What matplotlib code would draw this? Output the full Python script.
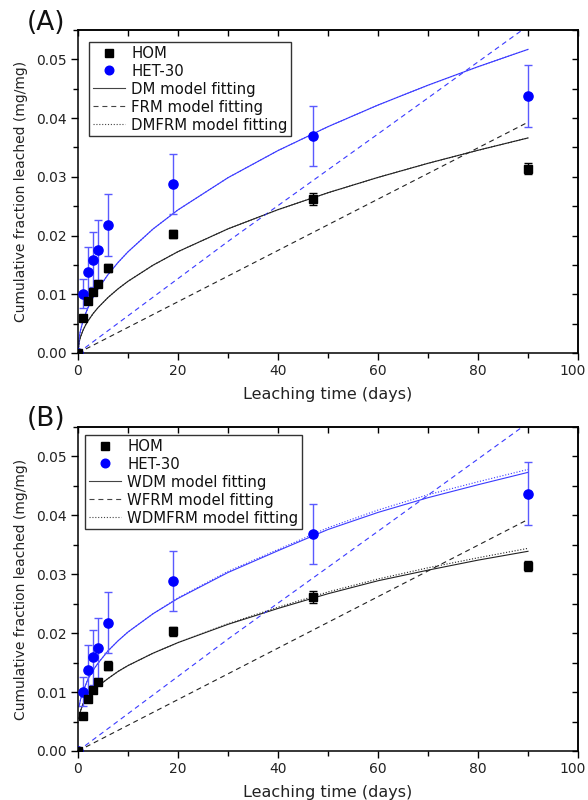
import numpy as np
import matplotlib
matplotlib.use("Agg")
import matplotlib.pyplot as plt
from matplotlib.lines import Line2D
from matplotlib.ticker import MultipleLocator, FormatStrFormatter
import matplotlib.transforms as mtransforms

plt.rcParams['font.family'] = ['DejaVu Sans']

# ---------------- data ----------------
t_obs = [0, 1, 2, 3, 4, 6, 19, 47, 90]
hom = [0, 0.0060, 0.0088, 0.0104, 0.0117, 0.0145, 0.0203, 0.0262, 0.0314]
hom_err = [0, 0.0005, 0.0005, 0.0005, 0.0005, 0.0007, 0.0007, 0.0010, 0.0009]
het = [0, 0.0101, 0.0138, 0.0159, 0.0175, 0.0218, 0.0288, 0.0369, 0.0437]
het_err = [0, 0.0025, 0.0042, 0.0047, 0.0051, 0.0052, 0.0051, 0.0051, 0.0053]

# panel A model curves
t_fit = [0, 0.25, 0.5, 1, 1.5, 2, 3, 4, 6, 8, 10, 15, 20, 30, 40, 50, 60, 70, 80, 90]
dm_hom = [0, 0.00193, 0.00273, 0.00386, 0.00473, 0.00546, 0.00669, 0.00772, 0.00945,
          0.01092, 0.01221, 0.01495, 0.01726, 0.02114, 0.02441, 0.02729, 0.0299,
          0.0323, 0.03452, 0.03662]
dm_het = [0, 0.00273, 0.00385, 0.00545, 0.00667, 0.00771, 0.00944, 0.0109, 0.01335,
          0.01541, 0.01723, 0.02111, 0.02437, 0.02985, 0.03447, 0.03854, 0.04222,
          0.0456, 0.04875, 0.0517]
dmfrm_hom = dm_hom
dmfrm_het = dm_het

t_lin = [0, 30, 60, 90]
frm_hom = [0, 0.0131, 0.0262, 0.0393]
frm_het = [0, 0.0190, 0.0373, 0.0557]

# panel B model curves
t_w = [0.2, 0.5, 1, 2, 3, 4, 6, 8, 10, 15, 20, 30, 40, 50, 60, 70, 80, 90]
wdm_hom = [0.0055, 0.0068, 0.0080, 0.0093, 0.0102, 0.0110, 0.0123, 0.0135, 0.0145,
           0.0166, 0.0184, 0.0215, 0.0242, 0.0267, 0.0289, 0.0307, 0.0324, 0.0339]
wdmfrm_hom = [0.0055, 0.0068, 0.0080, 0.0093, 0.0102, 0.0110, 0.0123, 0.0135, 0.0145,
              0.0166, 0.0184, 0.0216, 0.0244, 0.0270, 0.0292, 0.0311, 0.0328, 0.0344]
wdm_het = [0.0075, 0.0087, 0.0101, 0.0122, 0.0137, 0.0149, 0.0170, 0.0187, 0.0202,
           0.0233, 0.0259, 0.0303, 0.0340, 0.0376, 0.0405, 0.0430, 0.0452, 0.0473]
wdmfrm_het = [0.0075, 0.0087, 0.0101, 0.0122, 0.0137, 0.0149, 0.0170, 0.0187, 0.0202,
              0.0233, 0.0260, 0.0305, 0.0342, 0.0379, 0.0409, 0.0435, 0.0457, 0.0478]
wfrm_hom = frm_hom
wfrm_het = frm_het

labels_A = ["HOM", "HET-30", "DM model fitting", "FRM model fitting", "DMFRM model fitting"]
labels_B = ["HOM", "HET-30", "WDM model fitting", "WFRM model fitting", "WDMFRM model fitting"]
x_ticks = [0, 20, 40, 60, 80, 100]

# ---------------- styling ----------------
BLUE = '#0000ff'
BLUE_LINE = '#3a3aff'
BLUE_ERR = '#5a5aff'
BLACK = '#000000'
GRAY_LINE = '#222222'
DASH = (0, (4.5, 3.5))
DOT = (0, (1, 1.6))
LW = 0.8

fig = plt.figure(figsize=(5.88, 8.0), dpi=100)
axA = fig.add_axes([78/588, 1-353/800, 500/588, 323/800])
axB = fig.add_axes([78/588, 1-751/800, 500/588, 324/800])


def draw(ax, t_curve_hom, c1h, c1e, t_curve2, c3h, c3e, t_l, lh, le, labels, leg_anchor):
    ax.plot(t_curve_hom, c1h, color=GRAY_LINE, lw=LW, zorder=2)
    ax.plot(t_curve_hom, c1e, color=BLUE_LINE, lw=LW, zorder=2)
    ax.plot(t_l, lh, color=GRAY_LINE, lw=LW, linestyle=DASH, zorder=2)
    ax.plot(t_l, le, color=BLUE_LINE, lw=LW, linestyle=DASH, zorder=2)
    ax.plot(t_curve2, c3h, color=GRAY_LINE, lw=LW, linestyle=DOT, zorder=2)
    ax.plot(t_curve2, c3e, color=BLUE_LINE, lw=LW, linestyle=DOT, zorder=2)

    ax.errorbar(t_obs, het, yerr=het_err, fmt='o', color=BLUE, ms=6.6, ecolor=BLUE_ERR,
                elinewidth=1.0, capsize=3.2, capthick=1.0, zorder=4)
    ax.errorbar(t_obs, hom, yerr=hom_err, fmt='s', color=BLACK, ms=5.3, ecolor=BLACK,
                elinewidth=1.0, capsize=2.6, capthick=1.0, zorder=5)

    ax.set_xlim(0, 100)
    ax.set_ylim(0, 0.055)
    ax.set_xticks(x_ticks)
    ax.xaxis.set_minor_locator(MultipleLocator(10))
    ax.yaxis.set_major_locator(MultipleLocator(0.01))
    ax.yaxis.set_minor_locator(MultipleLocator(0.005))
    ax.yaxis.set_major_formatter(FormatStrFormatter('%.2f'))
    ax.tick_params(which='both', direction='out', top=False, right=False,
                   labelsize=10, colors='#000000', width=1.0, labelcolor='#222222')
    ax.tick_params(which='major', length=5, pad=3)
    ax.tick_params(which='minor', length=3.5)
    for s in ax.spines.values():
        s.set_linewidth(1.1)

    # inward ticks on top and right
    secx = ax.secondary_xaxis('top')
    secx.set_xticks(np.arange(0, 101, 10))
    secx.tick_params(direction='in', length=4, width=1.0, labeltop=False)
    secx.xaxis.set_minor_locator(matplotlib.ticker.NullLocator())
    secy = ax.secondary_yaxis('right')
    secy.set_yticks(np.arange(0, 0.0551, 0.005))
    secy.tick_params(direction='in', length=4, width=1.0, labelright=False)
    secy.yaxis.set_minor_locator(matplotlib.ticker.NullLocator())
    for s in list(secx.spines.values()) + list(secy.spines.values()):
        s.set_linewidth(1.1)

    ax.set_xlabel("Leaching time (days)", fontsize=11.5, color='#222222')
    ax.set_ylabel("Cumulative fraction leached (mg/mg)", fontsize=10, color='#222222')
    ax.xaxis.set_label_coords(0.5, -0.105)
    ax.yaxis.set_label_coords(-0.10, 0.5)

    # keep the last x tick label inside the figure
    fig.canvas.draw()
    last = ax.get_xticklabels()[-1]
    last.set_transform(last.get_transform() +
                       mtransforms.ScaledTranslation(-5/100, 0, fig.dpi_scale_trans))

    handles = [
        Line2D([], [], marker='s', color=BLACK, ls='none', ms=5.3),
        Line2D([], [], marker='o', color=BLUE, ls='none', ms=6.2),
        Line2D([], [], color='#444444', lw=LW),
        Line2D([], [], color='#444444', lw=LW, linestyle=DASH),
        Line2D([], [], color='#444444', lw=LW, linestyle=DOT),
    ]
    leg = ax.legend(handles, labels, loc='upper left', bbox_to_anchor=leg_anchor,
                    borderaxespad=0, fontsize=10.7, frameon=True, fancybox=False,
                    edgecolor='#333333', framealpha=1, handlelength=2.2,
                    handletextpad=0.4, labelspacing=0.2, borderpad=0.25)
    leg.get_frame().set_linewidth(1.0)
    for txt in leg.get_texts():
        txt.set_color('#111111')


draw(axA, t_fit, dm_hom, dm_het, t_fit, dmfrm_hom, dmfrm_het, t_lin, frm_hom, frm_het,
     labels_A, (11/500, 1-12/323))
draw(axB, t_w, wdm_hom, wdm_het, t_w, wdmfrm_hom, wdmfrm_het, t_lin, wfrm_hom, wfrm_het,
     labels_B, (7/500, 1-8/324))

fig.text(27/588, 1-23/800, "(A)", fontsize=19, ha='left', va='center', color='#111111')
fig.text(27/588, 1-419/800, "(B)", fontsize=19, ha='left', va='center', color='#111111')

fig.savefig("out.png", dpi=100)
